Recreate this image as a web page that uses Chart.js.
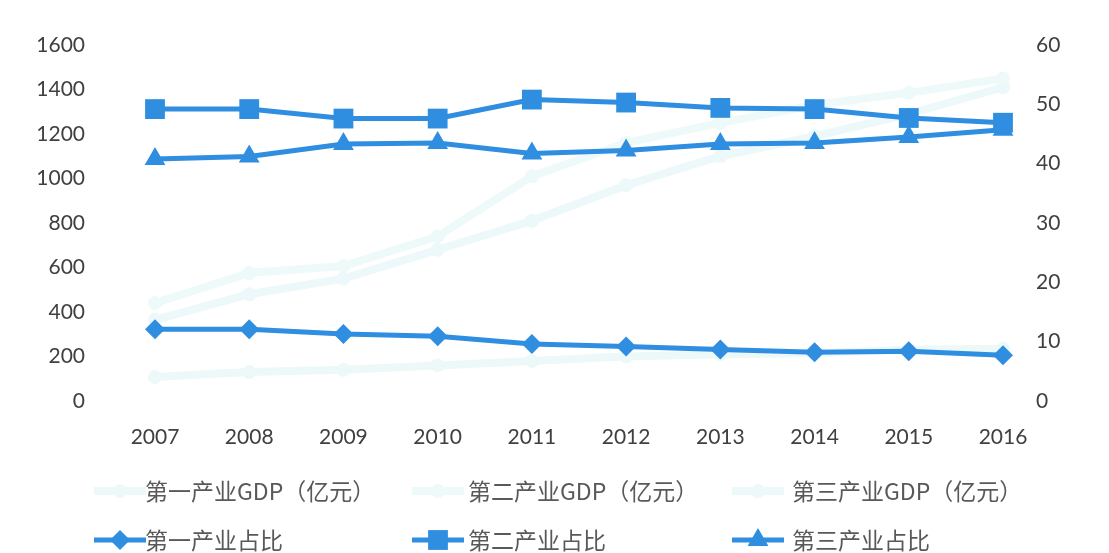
<!DOCTYPE html>
<html><head><meta charset="utf-8">
<script src="https://cdn.jsdelivr.net/npm/chart.js@4.4.1/dist/chart.umd.min.js"></script>
<style>html,body{margin:0;padding:0;background:#fff;}#wrap{width:1109px;height:553px;position:relative;}</style>
</head><body><div id="wrap"><canvas id="c" width="1109" height="553"></canvas></div>
<script>
const years = ['2007','2008','2009','2010','2011','2012','2013','2014','2015','2016'];
const primaryGDP   = [108, 130, 140, 160, 180, 200, 210, 215, 230, 235];
const secondaryGDP = [440, 575, 607, 740, 1010, 1160, 1250, 1330, 1385, 1450];
const tertiaryGDP  = [365, 480, 550, 680, 810, 970, 1100, 1190, 1290, 1410];
const primaryShare   = [12.1, 12.1, 11.3, 10.9, 9.6, 9.2, 8.7, 8.2, 8.4, 7.7];
const secondaryShare = [49.2, 49.2, 47.6, 47.6, 50.8, 50.3, 49.4, 49.2, 47.7, 46.9];
const tertiaryShare  = [40.8, 41.2, 43.3, 43.5, 41.7, 42.2, 43.3, 43.5, 44.5, 45.7];
const leftTicks = [0, 1600, 200];
const rightTicks = [0, 60, 10];

const BLUE = '#2f8ee0';
const FAINT = ['#edf9f8', '#eefaf9', '#ecf8f9'];

function faint(label, data, i) {
  return {label, data, yAxisID: 'y', borderColor: FAINT[i], backgroundColor: FAINT[i],
    borderWidth: 8, pointStyle: 'circle', pointRadius: 7, pointBorderWidth: 0, order: 2, tension: 0};
}
function main(label, data, style, r) {
  return {label, data, yAxisID: 'y1', borderColor: BLUE, backgroundColor: BLUE,
    borderWidth: 5, pointStyle: style, pointRadius: r, pointBorderWidth: 0, order: 1, tension: 0};
}

function shape(ctx, style, x, y, r) {
  ctx.beginPath();
  if (style === 'rect') { const s = r * Math.SQRT1_2; ctx.rect(x - s, y - s, 2 * s, 2 * s); }
  else if (style === 'rectRot') { ctx.moveTo(x, y - r); ctx.lineTo(x + r, y); ctx.lineTo(x, y + r); ctx.lineTo(x - r, y); ctx.closePath(); }
  else if (style === 'triangle') { ctx.moveTo(x, y - r); ctx.lineTo(x + r * 0.866, y + r * 0.5); ctx.lineTo(x - r * 0.866, y + r * 0.5); ctx.closePath(); }
  else { ctx.arc(x, y, r, 0, Math.PI * 2); }
  ctx.fill();
}

const legendPlugin = {
  id: 'gridLegend',
  afterDraw(chart) {
    const ctx = chart.ctx;
    const cols = [{sx: 120, tx: 145}, {sx: 438, tx: 468}, {sx: 758, tx: 792}];
    const rows = [491, 540];
    chart.data.datasets.forEach((ds, i) => {
      const r = Math.floor(i / 3), c = i % 3;
      const y = rows[r], cx = cols[c].sx;
      ctx.save();
      ctx.strokeStyle = ds.borderColor; ctx.fillStyle = ds.backgroundColor;
      ctx.lineWidth = ds.borderWidth;
      ctx.beginPath(); ctx.moveTo(cx - 26, y); ctx.lineTo(cx + 26, y); ctx.stroke();
      shape(ctx, ds.pointStyle, cx, y, ds.pointRadius);
      ctx.fillStyle = '#595959';
      ctx.font = '23px "Noto Sans CJK SC"';
      ctx.textBaseline = 'middle'; ctx.textAlign = 'left';
      ctx.fillText(ds.label, cols[c].tx, y);
      ctx.restore();
    });
  }
};

const tickFont = {family: 'Lato', size: 21};
new Chart(document.getElementById('c'), {
  type: 'line',
  data: {
    labels: years,
    datasets: [
      faint('第一产业GDP（亿元）', primaryGDP, 0),
      faint('第二产业GDP（亿元）', secondaryGDP, 1),
      faint('第三产业GDP（亿元）', tertiaryGDP, 2),
      main('第一产业占比', primaryShare, 'rectRot', 10),
      main('第二产业占比', secondaryShare, 'rect', 14),
      main('第三产业占比', tertiaryShare, 'triangle', 12)
    ]
  },
  options: {
    responsive: false, animation: false, devicePixelRatio: 1,
    layout: {padding: {top: 45, bottom: 102, left: 0, right: 0}},
    plugins: {legend: {display: false}, tooltip: {enabled: false}},
    scales: {
      x: {offset: false, grid: {display: false, drawTicks: false}, border: {display: false},
        ticks: {color: '#404040', font: tickFont, padding: 24, maxRotation: 0},
        afterFit(s) { s.height = 50; }},
      y: {position: 'left', min: leftTicks[0], max: leftTicks[1],
        grid: {display: false, drawTicks: false}, border: {display: false},
        ticks: {stepSize: leftTicks[2], color: '#404040', font: tickFont, padding: 70, callback: v => String(v)},
        afterFit(s) { s.width = 155; s.paddingTop = 12; s.paddingBottom = 12; }},
      y1: {position: 'right', min: rightTicks[0], max: rightTicks[1],
        grid: {display: false, drawTicks: false}, border: {display: false},
        ticks: {stepSize: rightTicks[2], color: '#404040', font: tickFont, padding: 33, callback: v => String(v)},
        afterFit(s) { s.width = 106; s.paddingTop = 12; s.paddingBottom = 12; }}
    }
  },
  plugins: [legendPlugin]
});
</script></body></html>
